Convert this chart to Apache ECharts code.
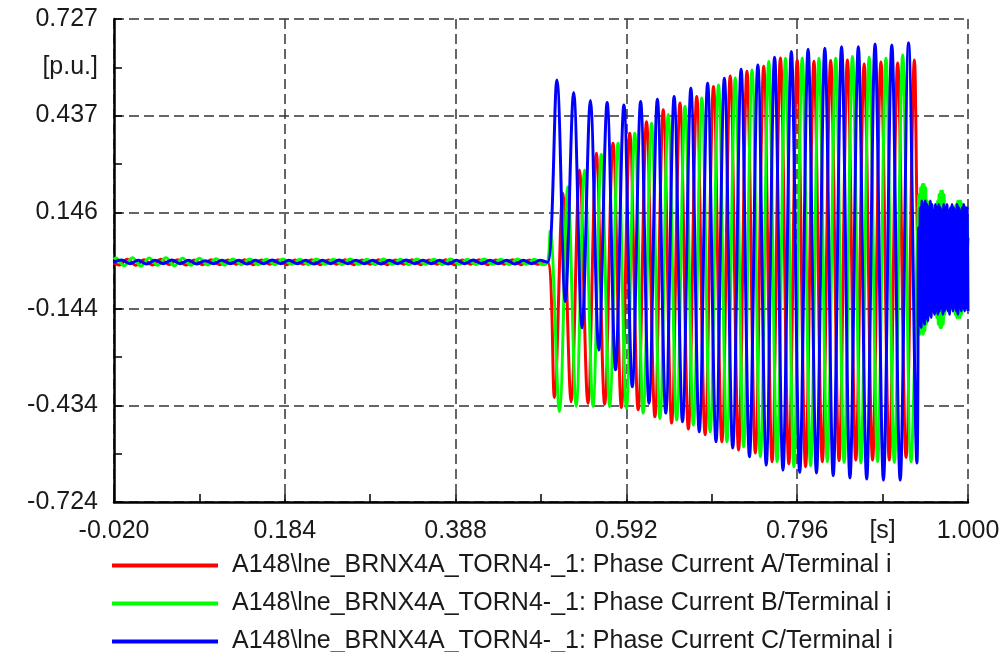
<!DOCTYPE html>
<html>
<head>
<meta charset="utf-8">
<title>Phase currents</title>
<script src="https://cdn.jsdelivr.net/npm/echarts@6/dist/echarts.min.js"></script>
<style>
  html, body { margin: 0; padding: 0; background: #fff; }
  #chart { width: 1006px; height: 652px; }
</style>
</head>
<body>
<div id="chart"></div>
<script>
// Series names (legend)
const seriesNames = [
  'A148\\lne_BRNX4A_TORN4-_1: Phase Current A/Terminal i',
  'A148\\lne_BRNX4A_TORN4-_1: Phase Current B/Terminal i',
  'A148\\lne_BRNX4A_TORN4-_1: Phase Current C/Terminal i'
];
const seriesColors = ['#ff0000', '#00ff00', '#0000ff'];

// Axis ticks and labels
const xTickValues = [-0.020, 0.082, 0.184, 0.286, 0.388, 0.490, 0.592, 0.694, 0.796, 0.898, 1.000];
const xGridValues = [-0.020, 0.184, 0.388, 0.592, 0.796, 1.000];
const xLabelValues = [-0.020, 0.184, 0.388, 0.592, 0.796, 0.898, 1.000];
const xLabelTexts = ['-0.020', '0.184', '0.388', '0.592', '0.796', '[s]', '1.000'];

const yTickValues = [-0.724, -0.579, -0.434, -0.289, -0.144, 0.001, 0.146, 0.2915, 0.437, 0.582, 0.727];
const yGridValues = [-0.724, -0.434, -0.144, 0.146, 0.437, 0.727];
const yLabelValues = [-0.724, -0.434, -0.144, 0.146, 0.437, 0.582, 0.727];
const yLabelTexts = ['-0.724', '-0.434', '-0.144', '0.146', '0.437', '[p.u.]', '0.727'];

// Pre-fault load current ripple, [t (s), i (p.u.)]
const preA = [[-0.020,-0.006],[-0.014,-0.012],[-0.004,0.005],[0.006,-0.013],[0.016,0.004],[0.026,-0.012],[0.036,0.005],[0.046,-0.011],[0.056,0.004],[0.066,-0.012],[0.076,0.003],[0.086,-0.011],[0.096,0.004],[0.106,-0.011],[0.116,0.003],[0.126,-0.010],[0.136,0.004],[0.146,-0.011],[0.156,0.003],[0.166,-0.010],[0.176,0.004],[0.186,-0.011],[0.196,0.003],[0.206,-0.010],[0.216,0.004],[0.226,-0.011],[0.236,0.003],[0.246,-0.010],[0.256,0.004],[0.266,-0.011],[0.276,0.003],[0.286,-0.010],[0.296,0.004],[0.306,-0.011],[0.316,0.003],[0.326,-0.010],[0.336,0.004],[0.346,-0.011],[0.356,0.003],[0.366,-0.010],[0.376,0.004],[0.386,-0.011],[0.396,0.003],[0.406,-0.010],[0.416,0.004],[0.426,-0.011],[0.436,0.003],[0.446,-0.010],[0.456,0.004],[0.466,-0.011],[0.476,0.003],[0.486,-0.010]];
const preB = [[-0.020,0.004],[-0.018,0.009],[-0.008,-0.014],[0.002,0.010],[0.012,-0.015],[0.022,0.009],[0.032,-0.013],[0.042,0.010],[0.052,-0.014],[0.062,0.008],[0.072,-0.013],[0.082,0.008],[0.092,-0.012],[0.102,0.007],[0.112,-0.012],[0.122,0.006],[0.132,-0.011],[0.142,0.006],[0.152,-0.011],[0.162,0.005],[0.172,-0.011],[0.182,0.006],[0.192,-0.010],[0.202,0.005],[0.212,-0.011],[0.222,0.006],[0.232,-0.010],[0.242,0.005],[0.252,-0.011],[0.262,0.006],[0.272,-0.010],[0.282,0.005],[0.292,-0.011],[0.302,0.006],[0.312,-0.010],[0.322,0.005],[0.332,-0.011],[0.342,0.006],[0.352,-0.010],[0.362,0.005],[0.372,-0.011],[0.382,0.006],[0.392,-0.010],[0.402,0.005],[0.412,-0.011],[0.422,0.006],[0.432,-0.010],[0.442,0.005],[0.452,-0.011],[0.462,0.006],[0.472,-0.010],[0.482,0.005],[0.492,-0.011]];
const preC = [[-0.020,-0.004],[-0.011,0.003],[-0.001,-0.008],[0.009,0.002],[0.019,-0.009],[0.029,0.002],[0.039,-0.008],[0.049,0.003],[0.059,-0.008],[0.069,0.002],[0.079,-0.009],[0.089,0.001],[0.099,-0.008],[0.109,0.002],[0.119,-0.008],[0.129,0.002],[0.139,-0.009],[0.149,0.002],[0.159,-0.008],[0.169,0.003],[0.179,-0.008],[0.189,0.002],[0.199,-0.008],[0.209,0.002],[0.219,-0.009],[0.229,0.002],[0.239,-0.008],[0.249,0.003],[0.259,-0.008],[0.269,0.002],[0.279,-0.008],[0.289,0.002],[0.299,-0.009],[0.309,0.002],[0.319,-0.008],[0.329,0.003],[0.339,-0.008],[0.349,0.002],[0.359,-0.008],[0.369,0.002],[0.379,-0.009],[0.389,0.002],[0.399,-0.008],[0.409,0.003],[0.419,-0.008],[0.429,0.002],[0.439,-0.008],[0.449,0.002],[0.459,-0.009],[0.469,0.002],[0.479,-0.008],[0.489,0.002]];

// Fault period: peaks and troughs of each cycle
const faultA = [[0.498,-0.004],[0.506,-0.410],[0.516,0.204],[0.526,-0.423],[0.536,0.273],[0.546,-0.427],[0.556,0.324],[0.566,-0.430],[0.576,0.354],[0.586,-0.440],[0.596,0.384],[0.606,-0.447],[0.616,0.418],[0.626,-0.468],[0.636,0.454],[0.646,-0.487],[0.656,0.475],[0.666,-0.505],[0.676,0.494],[0.686,-0.522],[0.696,0.524],[0.706,-0.543],[0.716,0.556],[0.726,-0.568],[0.736,0.570],[0.746,-0.577],[0.756,0.585],[0.766,-0.603],[0.776,0.610],[0.786,-0.610],[0.796,0.604],[0.806,-0.618],[0.816,0.600],[0.826,-0.603],[0.836,0.602],[0.846,-0.600],[0.856,0.604],[0.866,-0.598],[0.876,0.592],[0.886,-0.598],[0.896,0.598],[0.906,-0.598],[0.916,0.595],[0.926,-0.590],[0.936,0.604]];
const faultB = [[0.498,-0.003],[0.501,0.090],[0.512,-0.452],[0.522,0.223],[0.532,-0.437],[0.542,0.273],[0.552,-0.437],[0.562,0.320],[0.572,-0.437],[0.582,0.354],[0.592,-0.442],[0.602,0.384],[0.612,-0.457],[0.622,0.414],[0.632,-0.473],[0.642,0.440],[0.652,-0.478],[0.662,0.465],[0.672,-0.493],[0.682,0.490],[0.692,-0.513],[0.702,0.529],[0.712,-0.543],[0.722,0.550],[0.732,-0.558],[0.742,0.574],[0.752,-0.588],[0.762,0.599],[0.772,-0.603],[0.782,0.609],[0.792,-0.618],[0.802,0.610],[0.812,-0.615],[0.822,0.609],[0.832,-0.603],[0.842,0.609],[0.852,-0.605],[0.862,0.614],[0.872,-0.607],[0.882,0.612],[0.892,-0.603],[0.902,0.609],[0.912,-0.605],[0.922,0.619],[0.932,-0.603]];
const faultC = [[0.498,-0.004],[0.509,0.544],[0.519,-0.122],[0.529,0.506],[0.539,-0.201],[0.549,0.482],[0.559,-0.267],[0.569,0.476],[0.579,-0.327],[0.589,0.469],[0.599,-0.378],[0.609,0.479],[0.619,-0.427],[0.629,0.486],[0.639,-0.457],[0.649,0.494],[0.659,-0.483],[0.669,0.519],[0.679,-0.513],[0.689,0.534],[0.699,-0.543],[0.709,0.549],[0.719,-0.562],[0.729,0.576],[0.739,-0.588],[0.749,0.589],[0.759,-0.613],[0.769,0.612],[0.779,-0.628],[0.789,0.629],[0.799,-0.635],[0.809,0.636],[0.819,-0.637],[0.829,0.639],[0.839,-0.645],[0.849,0.644],[0.859,-0.652],[0.869,0.644],[0.879,-0.655],[0.889,0.652],[0.899,-0.658],[0.909,0.649],[0.919,-0.658],[0.929,0.656],[0.939,-0.607]];

// After clearing: fast oscillation
const postA = [[0.940,0.020],[0.943,-0.090],[0.946,0.100],[0.949,-0.100],[0.952,0.090],[0.955,-0.090],[0.958,0.080],[0.961,-0.080],[0.964,0.090],[0.967,-0.080],[0.970,0.090],[0.973,-0.090],[0.976,0.080],[0.979,-0.080],[0.982,0.080],[0.985,-0.080],[0.988,0.080],[0.991,-0.070],[0.994,0.080],[0.997,-0.070],[1.000,0.070]];
const postB = [[0.9415,0.20],[0.9425,-0.22],[0.9435,0.22],[0.9445,-0.21],[0.9455,0.23],[0.9465,-0.22],[0.9475,0.23],[0.9485,-0.21],[0.9495,0.22],[0.9505,-0.19],[0.9515,0.18],[0.9525,-0.15],[0.9535,0.14],[0.9545,-0.12],[0.9555,0.12],[0.9565,-0.11],[0.9575,0.12],[0.9585,-0.12],[0.9595,0.13],[0.9605,-0.14],[0.9615,0.15],[0.9625,-0.17],[0.9635,0.18],[0.9645,-0.19],[0.9655,0.20],[0.9665,-0.20],[0.9675,0.21],[0.9685,-0.20],[0.9695,0.21],[0.9705,-0.19],[0.9715,0.20],[0.9725,-0.16],[0.9735,0.16],[0.9745,-0.13],[0.9755,0.13],[0.9765,-0.11],[0.9775,0.12],[0.9785,-0.11],[0.9795,0.12],[0.9805,-0.13],[0.9815,0.13],[0.9825,-0.15],[0.9835,0.15],[0.9845,-0.16],[0.9855,0.17],[0.9865,-0.17],[0.9875,0.18],[0.9885,-0.17],[0.9895,0.18],[0.9905,-0.17],[0.9915,0.18],[0.9925,-0.16],[0.9935,0.17],[0.9945,-0.14],[0.9955,0.15],[0.9965,-0.12],[0.9975,0.13],[0.9985,-0.12],[0.9995,0.12]];
const postC = [[0.941,0.10],[0.942,-0.19],[0.943,0.16],[0.944,-0.20],[0.945,0.18],[0.946,-0.18],[0.947,0.17],[0.948,-0.19],[0.949,0.18],[0.950,-0.17],[0.951,0.17],[0.952,-0.18],[0.953,0.16],[0.954,-0.16],[0.955,0.18],[0.956,-0.17],[0.957,0.17],[0.958,-0.15],[0.959,0.15],[0.960,-0.16],[0.961,0.17],[0.962,-0.15],[0.963,0.16],[0.964,-0.16],[0.965,0.17],[0.966,-0.15],[0.967,0.16],[0.968,-0.14],[0.969,0.15],[0.970,-0.16],[0.971,0.17],[0.972,-0.15],[0.973,0.16],[0.974,-0.14],[0.975,0.17],[0.976,-0.15],[0.977,0.15],[0.978,-0.16],[0.979,0.16],[0.980,-0.14],[0.981,0.17],[0.982,-0.15],[0.983,0.16],[0.984,-0.14],[0.985,0.15],[0.986,-0.15],[0.987,0.17],[0.988,-0.16],[0.989,0.16],[0.990,-0.14],[0.991,0.15],[0.992,-0.15],[0.993,0.16],[0.994,-0.14],[0.995,0.17],[0.996,-0.15],[0.997,0.16],[0.998,-0.14],[0.999,0.16],[1.000,-0.15]];

const phaseData = [
  preA.concat(faultA, postA),
  preB.concat(faultB, postB),
  preC.concat(faultC, postC)
];

const FONT = '"Liberation Sans", Arial, sans-serif';
const TEXT_COLOR = '#1a1a1a';

function labelFor(values, texts) {
  return function (v) {
    for (let i = 0; i < values.length; i++) {
      if (Math.abs(values[i] - v) < 1e-6) return texts[i];
    }
    return '';
  };
}

const gridLine = { show: true, lineStyle: { color: '#333', width: 1.5, type: [10, 5] } };

const chart = echarts.init(document.getElementById('chart'), null, { renderer: 'canvas' });
chart.setOption({
  animation: false,
  backgroundColor: '#fff',
  color: seriesColors,
  grid: { left: 114, right: 38, top: 19, bottom: 150, containLabel: false, outerBoundsMode: 'none' },
  xAxis: [
    {
      type: 'value', min: -0.020, max: 1.000,
      axisLine: { show: true, onZero: false, lineStyle: { color: '#000', width: 2.5 } },
      axisTick: { show: true, inside: true, length: 8, customValues: xTickValues, lineStyle: { color: '#000', width: 1.5 } },
      axisLabel: {
        show: true, customValues: xLabelValues, formatter: labelFor(xLabelValues, xLabelTexts),
        margin: 17, fontSize: 25, fontFamily: FONT, color: TEXT_COLOR, hideOverlap: false
      },
      splitLine: { show: false }
    },
    {
      type: 'value', min: -0.020, max: 1.000, position: 'top',
      axisLine: { show: false, onZero: false },
      axisTick: { show: false, customValues: xGridValues },
      axisLabel: { show: false },
      splitLine: gridLine
    }
  ],
  yAxis: [
    {
      type: 'value', min: -0.724, max: 0.727,
      axisLine: { show: true, onZero: false, lineStyle: { color: '#000', width: 2.5 } },
      axisTick: { show: true, inside: true, length: 8, customValues: yTickValues, lineStyle: { color: '#000', width: 1.5 } },
      axisLabel: {
        show: true, customValues: yLabelValues, formatter: labelFor(yLabelValues, yLabelTexts),
        margin: 16, fontSize: 25, fontFamily: FONT, color: TEXT_COLOR, hideOverlap: false
      },
      splitLine: { show: false }
    },
    {
      type: 'value', min: -0.724, max: 0.727, position: 'right',
      axisLine: { show: false, onZero: false },
      axisTick: { show: false, customValues: yGridValues },
      axisLabel: { show: false },
      splitLine: gridLine
    }
  ],
  legend: {
    orient: 'vertical', left: 112, top: 553, height: 120, padding: 0, itemGap: 13,
    itemWidth: 106, itemHeight: 4, icon: 'rect',
    selectedMode: false,
    textStyle: { fontSize: 25, fontFamily: FONT, color: TEXT_COLOR, lineHeight: 22, padding: [0, 0, 0, 9] },
    data: seriesNames
  },
  series: phaseData.map(function (d, i) {
    return {
      name: seriesNames[i],
      type: 'line',
      xAxisIndex: 0,
      yAxisIndex: 0,
      data: d,
      showSymbol: false,
      smooth: 0.35,
      lineStyle: { color: seriesColors[i], width: 3 },
      itemStyle: { color: seriesColors[i] },
      emphasis: { disabled: true }
    };
  })
});
</script>
</body>
</html>
